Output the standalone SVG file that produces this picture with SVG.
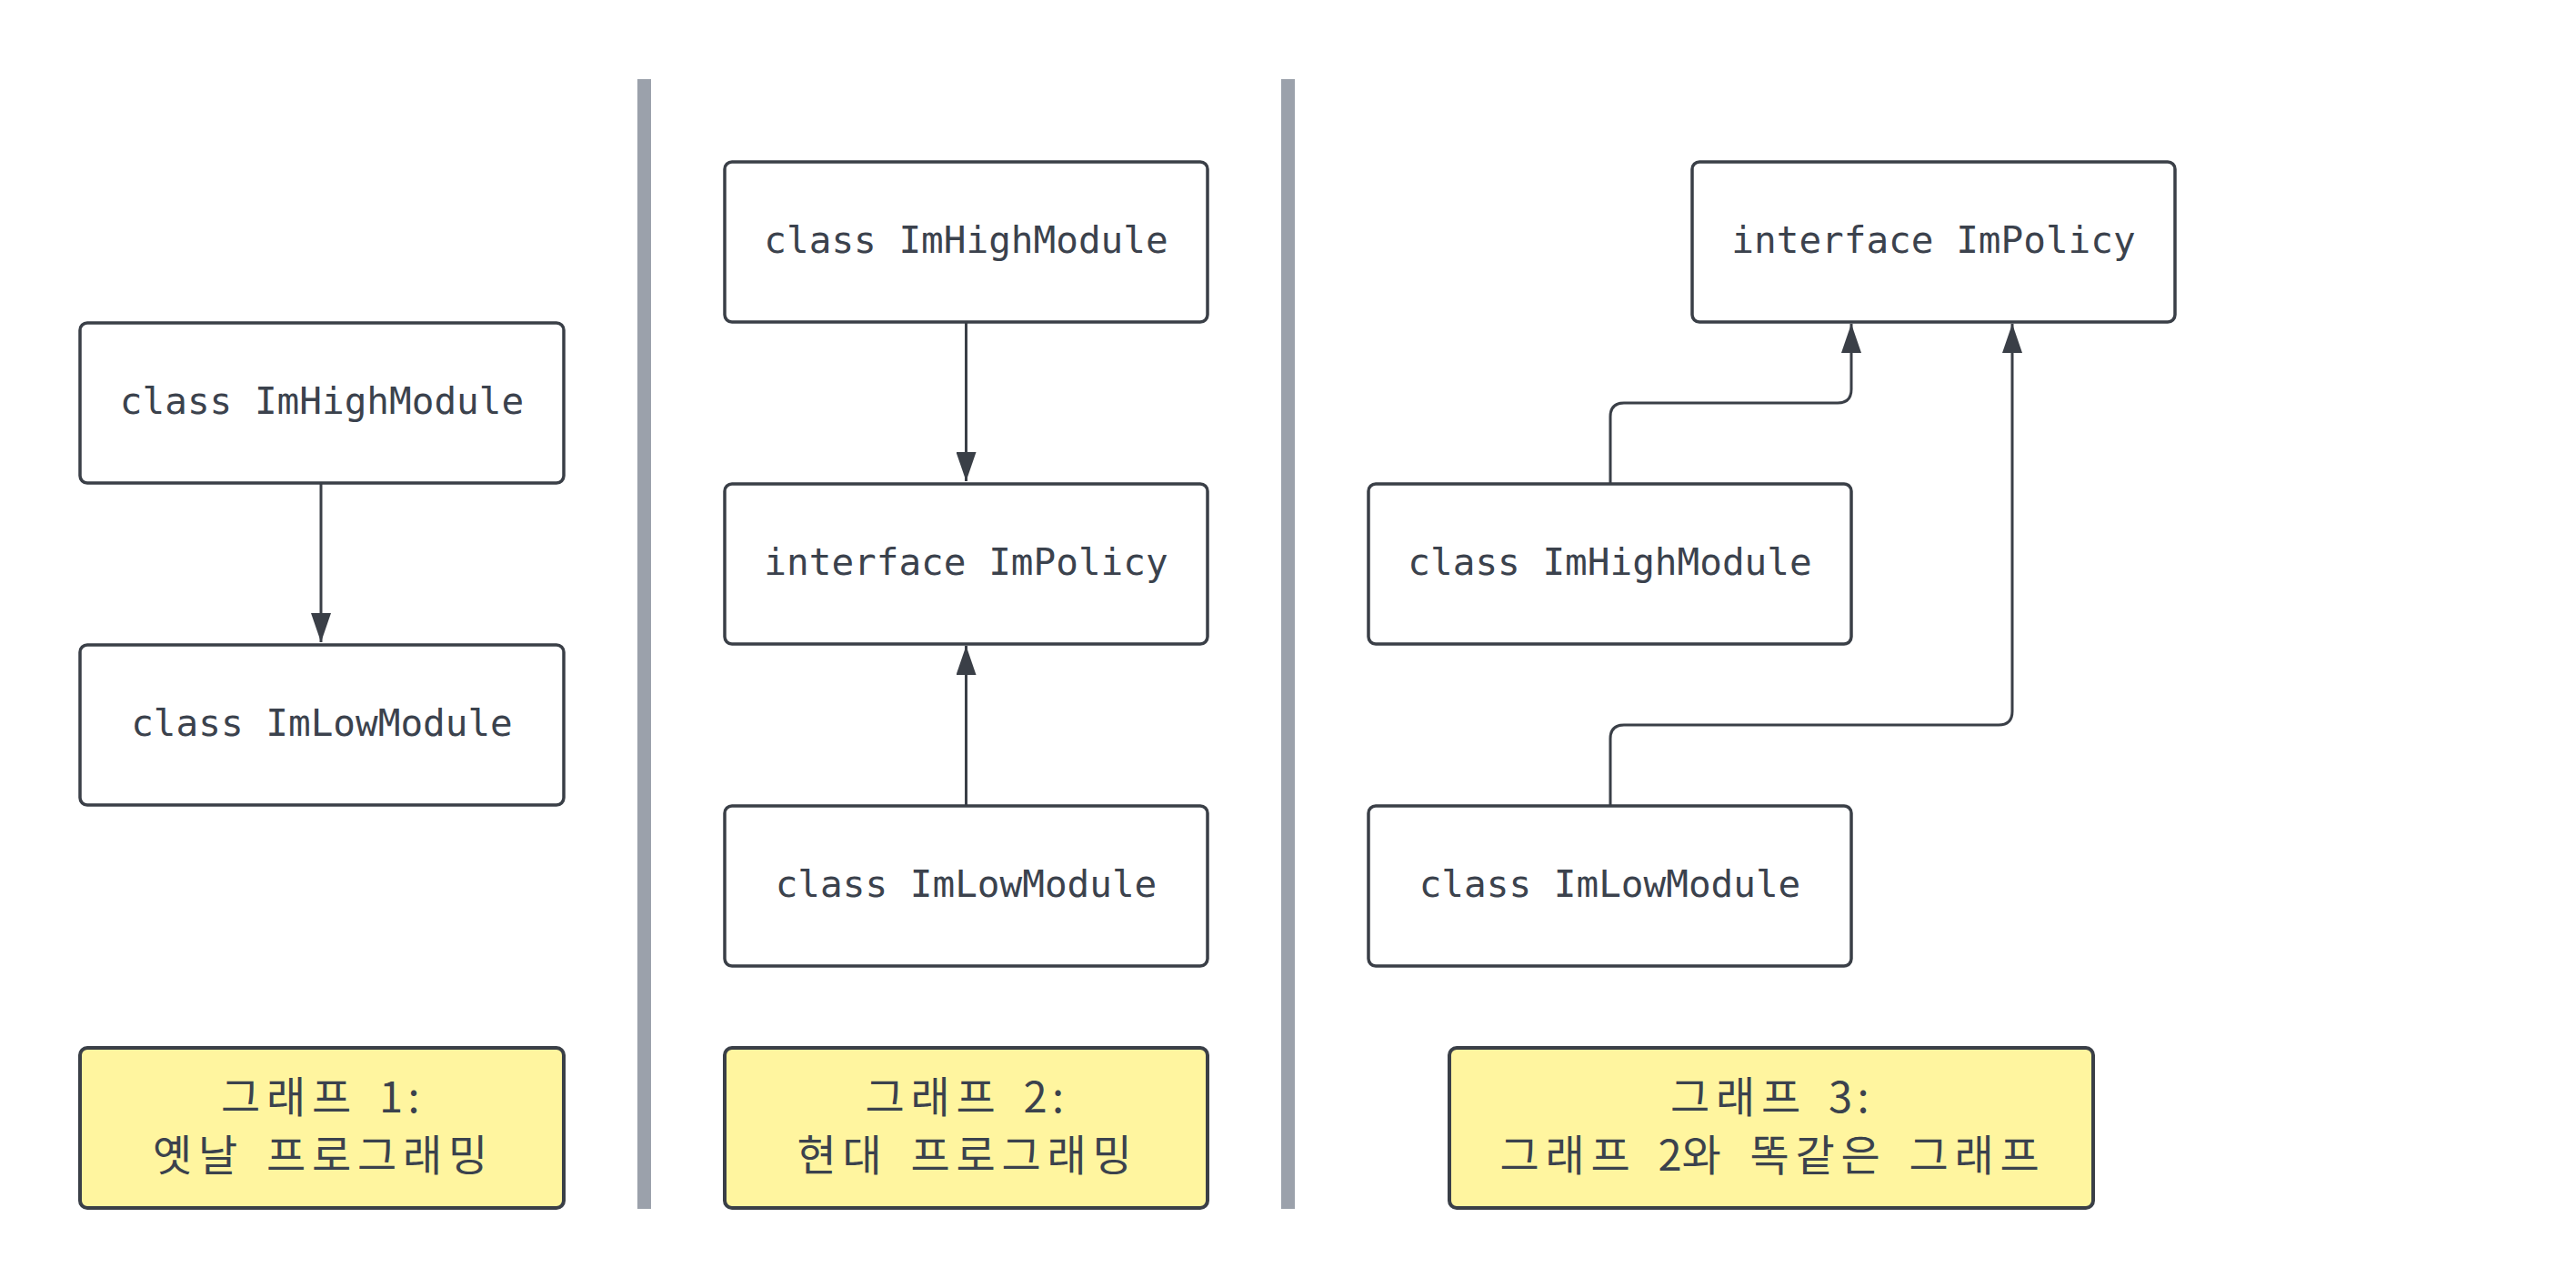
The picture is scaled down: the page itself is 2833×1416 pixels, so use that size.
<svg xmlns="http://www.w3.org/2000/svg" width="2833" height="1416" viewBox="0 0 2833 1416">
<style>
.box{fill:#ffffff;stroke:#3a3f47;stroke-width:3.5}
.lbl{fill:#fff59f;stroke:#3a3f47;stroke-width:4}
.t{font-family:"DejaVu Sans Mono","Liberation Mono","Noto Sans CJK KR",monospace;font-size:41px;fill:#3b424d;text-anchor:middle}
.k{font-family:"Noto Sans CJK KR","DejaVu Sans",sans-serif;font-size:47px;font-weight:400;fill:#3b424d}
.edge{fill:none;stroke:#3a3f47;stroke-width:3}
.div{fill:#9ba1ab}
</style>
<defs>
<marker id="ah" markerUnits="userSpaceOnUse" viewBox="0 0 32 22" markerWidth="32" markerHeight="22" refX="32" refY="11" orient="auto">
<path d="M0,0 L32,11 L0,22 z" fill="#3a3f47"/>
</marker>
</defs>
<rect width="2833" height="1416" fill="#ffffff"/>
<g id="dividers">
<rect class="div" x="701" y="87" width="15" height="1242"/>
<rect class="div" x="1409" y="87" width="15" height="1242"/>
</g>
<g id="connectors">
<path class="edge" d="M353,532 V706" marker-end="url(#ah)"/>
<path class="edge" d="M1062.5,355 V529" marker-end="url(#ah)"/>
<path class="edge" d="M1062.5,885 V710" marker-end="url(#ah)"/>
<path class="edge" d="M1771,531 V458 Q1771,443 1786,443 H2021 Q2036,443 2036,428 V356" marker-end="url(#ah)"/>
<path class="edge" d="M1771,885 V812 Q1771,797 1786,797 H2198 Q2213,797 2213,782 V356" marker-end="url(#ah)"/>
</g>
<g id="p1-high"><rect class="box" x="88" y="355" width="532" height="176" rx="8"/><text class="t" x="354" y="455">class ImHighModule</text></g>
<g id="p1-low"><rect class="box" x="88" y="709" width="532" height="176" rx="8"/><text class="t" x="354" y="809">class ImLowModule</text></g>
<g id="p1-label"><rect class="lbl" x="88" y="1152" width="532" height="176" rx="8"/>
<text class="k" x="243 293 343 391.5 417 448.5" y="1223">그래프 1:</text>
<text class="k" x="168 218 266.5 293 343 393 443 493" y="1287">옛날 프로그래밍</text></g>
<g id="p2-high"><rect class="box" x="797" y="178" width="531" height="176" rx="8"/><text class="t" x="1062.5" y="278">class ImHighModule</text></g>
<g id="p2-policy"><rect class="box" x="797" y="532" width="531" height="176" rx="8"/><text class="t" x="1062.5" y="632">interface ImPolicy</text></g>
<g id="p2-low"><rect class="box" x="797" y="886" width="531" height="176" rx="8"/><text class="t" x="1062.5" y="986">class ImLowModule</text></g>
<g id="p2-label"><rect class="lbl" x="797" y="1152" width="531" height="176" rx="8"/>
<text class="k" x="951.5 1001.5 1051.5 1100 1125.5 1157" y="1223">그래프 2:</text>
<text class="k" x="876.5 926.5 975 1001.5 1051.5 1101.5 1151.5 1201.5" y="1287">현대 프로그래밍</text></g>
<g id="p3-policy"><rect class="box" x="1861" y="178" width="531" height="176" rx="8"/><text class="t" x="2126.5" y="278">interface ImPolicy</text></g>
<g id="p3-high"><rect class="box" x="1505" y="532" width="531" height="176" rx="8"/><text class="t" x="1770.5" y="632">class ImHighModule</text></g>
<g id="p3-low"><rect class="box" x="1505" y="886" width="531" height="176" rx="8"/><text class="t" x="1770.5" y="986">class ImLowModule</text></g>
<g id="p3-label"><rect class="lbl" x="1594" y="1152" width="708" height="176" rx="8"/>
<text class="k" x="1837 1887 1937 1985.5 2011 2042.5" y="1223">그래프 3:</text>
<text class="k" x="1649.5 1699.5 1749.5 1798 1823.5 1849.5 1898 1924.5 1974.5 2024.5 2073 2099.5 2149.5 2199.5" y="1287">그래프 2와 똑같은 그래프</text></g>
</svg>
